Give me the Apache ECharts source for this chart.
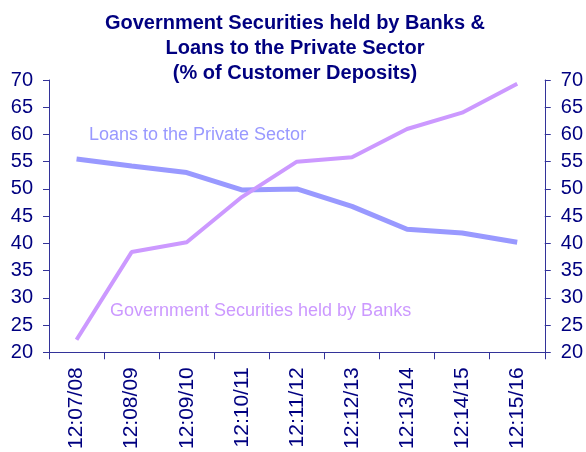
<!DOCTYPE html>
<html>
<head>
<meta charset="utf-8">
<script src="https://cdn.jsdelivr.net/npm/echarts@6/dist/echarts.min.js"></script>
<style>
  html, body { margin: 0; padding: 0; background: #ffffff; }
  #chart { width: 586px; height: 452px; }
</style>
</head>
<body>
<div id="chart"></div>
<script>
// Fiscal-year categories
const categories = ['12:07/08', '12:08/09', '12:09/10', '12:10/11', '12:11/12', '12:12/13', '12:13/14', '12:14/15', '12:15/16'];
// Shares of customer deposits, %
const loansPrivate = [55.5, 54.2, 53.0, 49.8, 50.0, 46.8, 42.6, 41.9, 40.2];
const govSecurities = [22.3, 38.4, 40.2, 48.5, 55.0, 55.8, 61.0, 64.0, 69.3];
const yTicks = { min: 20, max: 70, interval: 5 };

const navy = '#000080';
const axisColor = '#333399';
const font = 'Liberation Sans, Arial, sans-serif';

const chart = echarts.init(document.getElementById('chart'), null, { renderer: 'canvas' });

const valueAxis = (position) => ({
  type: 'value',
  position: position,
  min: yTicks.min,
  max: yTicks.max,
  interval: yTicks.interval,
  axisLine: { show: true, lineStyle: { color: axisColor, width: 1 } },
  axisTick: { show: true, length: 6, lineStyle: { color: axisColor } },
  splitLine: { show: false },
  axisLabel: { color: navy, fontSize: 20, fontFamily: font, margin: 16 }
});

chart.setOption({
  animation: false,
  backgroundColor: '#ffffff',
  title: {
    text: 'Government Securities held by Banks &\nLoans to the Private Sector\n(% of Customer Deposits)',
    left: 290,
    textAlign: 'center',
    top: 6,
    textStyle: { color: navy, fontSize: 20, fontWeight: 'bold', fontFamily: font, lineHeight: 25 }
  },
  grid: { left: 49, right: 38, top: 80, bottom: 96 },
  xAxis: {
    type: 'category',
    data: categories,
    boundaryGap: true,
    axisLine: { lineStyle: { color: axisColor, width: 1 } },
    axisTick: { show: true, length: 7, lineStyle: { color: axisColor } },
    axisLabel: { color: navy, fontSize: 21, fontFamily: font, rotate: 90, margin: 15, interval: 0 }
  },
  yAxis: [valueAxis('left'), valueAxis('right')],
  series: [
    {
      name: 'Loans to the Private Sector',
      type: 'line',
      data: loansPrivate,
      showSymbol: false,
      lineStyle: { color: '#9999ff', width: 5 },
      z: 2
    },
    {
      name: 'Government Securities held by Banks',
      type: 'line',
      data: govSecurities,
      showSymbol: false,
      lineStyle: { color: '#cc99ff', width: 4 },
      z: 3
    }
  ],
  graphic: [
    {
      type: 'text', x: 89, y: 135,
      style: { text: 'Loans to the Private Sector', fill: '#9999ff', font: '18px ' + font, verticalAlign: 'middle' }
    },
    {
      type: 'text', x: 110, y: 311,
      style: { text: 'Government Securities held by Banks', fill: '#cc99ff', font: '18px ' + font, verticalAlign: 'middle' }
    }
  ]
});
</script>
</body>
</html>
